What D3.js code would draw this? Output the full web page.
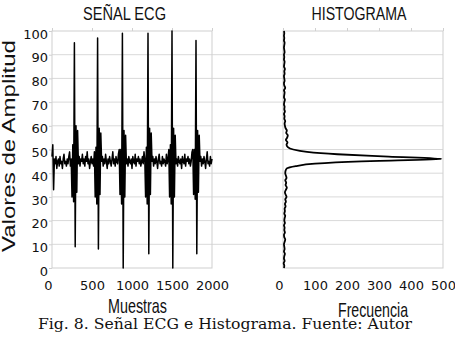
<!DOCTYPE html>
<html>
<head>
<meta charset="utf-8">
<script src="https://cdn.jsdelivr.net/npm/d3@7"></script>
<style>
  body { margin: 0; background: #fff; }
  .tick text { font-family: "DejaVu Sans", sans-serif; font-size: 13px; fill: #111; }
  .narrow { font-family: "Liberation Sans Narrow", "Arial Narrow", "Liberation Sans", sans-serif; fill: #111; }
</style>
</head>
<body>
<div id="chart"></div>
<script>
// ECG samples, one value every 10 samples (0..2000)
const ecgStep = 10;
const ecgValues = [
  47, 52, 33, 46, 44, 47, 42, 45, 46, 43,
  47, 44, 45, 42, 46, 48, 44, 45, 43, 46,
  44, 47, 49, 43, 46, 30, 52, 28, 95, 9,
  60, 32, 58, 44, 47, 43, 46, 45, 48, 44,
  46, 43, 47, 45, 49, 44, 46, 42, 45, 47,
  44, 46, 43, 49, 30, 51, 27, 97, 8, 59,
  31, 57, 45, 47, 43, 46, 44, 48, 45, 42,
  46, 44, 47, 45, 43, 46, 49, 44, 46, 43,
  47, 45, 44, 48, 50, 31, 50, 27, 99, 0,
  58, 30, 56, 44, 46, 43, 47, 45, 44, 46,
  42, 47, 45, 44, 48, 43, 46, 45, 47, 44,
  46, 43, 45, 47, 44, 49, 46, 30, 51, 27,
  99, 6, 59, 31, 57, 45, 47, 43, 46, 44,
  47, 45, 42, 46, 48, 44, 45, 43, 47, 44,
  46, 45, 43, 48, 44, 46, 50, 30, 52, 27,
  100, 0, 59, 30, 56, 44, 46, 43, 47, 45,
  44, 46, 42, 47, 45, 44, 48, 43, 46, 45,
  47, 44, 46, 43, 45, 49, 50, 31, 50, 29,
  96, 6, 58, 32, 56, 45, 47, 43, 46, 44,
  47, 45, 42, 46, 49, 44, 45, 43, 47, 44,
  46
];

// Histogram: frequency for each amplitude value 0..100
const histFreq = [
  3, 4, 2, 5, 3, 4, 6, 3, 5, 4,
  3, 5, 7, 4, 3, 6, 4, 5, 3, 6,
  4, 5, 7, 4, 6, 5, 8, 6, 9, 7,
  11, 8, 6, 9, 12, 8, 10, 7, 11, 9,
  7, 8, 12, 40, 100, 245, 495, 330, 170, 75,
  32, 15, 11, 14, 9, 13, 15, 10, 12, 8,
  6, 5, 7, 4, 5, 3, 6, 4, 5, 3,
  4, 6, 3, 4, 5, 3, 7, 4, 3, 5,
  4, 3, 5, 4, 6, 3, 4, 5, 3, 4,
  3, 5, 4, 3, 4, 5, 3, 4, 3, 4,
  3
];

const ampTicks = [0, 10, 20, 30, 40, 50, 60, 70, 80, 90, 100];
const sampleTicks = [0, 500, 1000, 1500, 2000];
const freqTicks = [0, 100, 200, 300, 400, 500];

const W = 455, H = 338;

const svg = d3.select("#chart")
    .append("svg")
    .attr("width", W)
    .attr("height", H);

// scales
const y = d3.scaleLinear().domain([0, 100]).range([268, 31]);
const xL = d3.scaleLinear().domain([0, 2000]).range([52, 212]);
const xR = d3.scaleLinear().domain([0, 500]).range([283, 443]);

// gridlines running across both panels
svg.append("g")
    .selectAll("line")
    .data(ampTicks.filter(d => d > 0 && d < 100))
    .enter().append("line")
    .attr("x1", xL.range()[0])
    .attr("x2", xR.range()[1])
    .attr("y1", d => y(d))
    .attr("y2", d => y(d))
    .attr("stroke", "#d9d9d9")
    .attr("stroke-width", 1);

// panel frames
[xL, xR].forEach(sc => {
    svg.append("rect")
        .attr("x", sc.range()[0])
        .attr("y", y(100))
        .attr("width", sc.range()[1] - sc.range()[0])
        .attr("height", y(0) - y(100))
        .attr("fill", "none")
        .attr("stroke", "#cfcfcf")
        .attr("stroke-width", 1);
});

// little ticks on top edge
svg.append("g")
    .attr("transform", "translate(0," + y(100) + ")")
    .call(d3.axisTop(xL).tickValues(sampleTicks).tickSize(3).tickFormat(""))
    .call(g => g.select(".domain").remove())
    .call(g => g.selectAll("line").attr("stroke", "#d0d0d0"));

svg.append("g")
    .attr("transform", "translate(0," + y(100) + ")")
    .call(d3.axisTop(xR).tickValues(freqTicks).tickSize(3).tickFormat(""))
    .call(g => g.select(".domain").remove())
    .call(g => g.selectAll("line").attr("stroke", "#d0d0d0"));

// axes
svg.append("g")
    .attr("transform", "translate(" + xL.range()[0] + ",0)")
    .call(d3.axisLeft(y).tickValues(ampTicks).tickSize(3).tickPadding(1))
    .call(g => g.select(".domain").remove())
    .call(g => g.selectAll("line").attr("stroke", "#d0d0d0"))
    .call(g => g.selectAll("text").attr("dy", "0.55em"));

svg.append("g")
    .attr("transform", "translate(0," + y(0) + ")")
    .call(d3.axisBottom(xL).tickValues(sampleTicks).tickFormat(d3.format("d")).tickSize(0).tickPadding(13))
    .call(g => g.select(".domain").remove())
    .call(g => g.selectAll("text").attr("dx", d => d === 0 ? -4 : 0));

svg.append("g")
    .attr("transform", "translate(0," + y(0) + ")")
    .call(d3.axisBottom(xR).tickValues(freqTicks).tickFormat(d3.format("d")).tickSize(0).tickPadding(13))
    .call(g => g.select(".domain").remove())
    .call(g => g.selectAll("text").attr("dx", d => d === 0 ? -4 : 0));

// ECG signal
const ecgLine = d3.line()
    .x((d, i) => xL(i * ecgStep))
    .y(d => y(d));

svg.append("path")
    .datum(ecgValues)
    .attr("d", ecgLine)
    .attr("fill", "none")
    .attr("stroke", "#000")
    .attr("stroke-width", 1.5)
    .attr("stroke-linejoin", "round");

// histogram, drawn top to bottom so the curve is monotone in y
const histData = histFreq.map((f, a) => ({ amp: a, freq: f })).reverse();

const histLine = d3.line()
    .x(d => xR(d.freq))
    .y(d => y(d.amp))
    .curve(d3.curveMonotoneY);

svg.append("path")
    .datum(histData)
    .attr("d", histLine)
    .attr("fill", "none")
    .attr("stroke", "#000")
    .attr("stroke-width", 1.8)
    .attr("stroke-linejoin", "round");

// titles and labels
function label(txt, x, yy, size, len) {
    return svg.append("text")
        .attr("class", "narrow")
        .attr("x", x)
        .attr("y", yy)
        .attr("text-anchor", "middle")
        .attr("font-size", size)
        .attr("textLength", len)
        .attr("lengthAdjust", "spacingAndGlyphs")
        .text(txt);
}

label("SEÑAL ECG", 124.5, 20, 19, 83);
label("HISTOGRAMA", 359, 20, 19, 95);
label("Muestras", 137.5, 313, 21, 59);
label("Frecuencia", 373, 317, 21, 70);

svg.append("text")
    .attr("transform", "translate(15,146) rotate(-90)")
    .attr("text-anchor", "middle")
    .attr("font-family", "'Liberation Sans', Arial, sans-serif")
    .attr("font-size", 18)
    .attr("textLength", 212)
    .attr("lengthAdjust", "spacingAndGlyphs")
    .attr("fill", "#111")
    .text("Valores de Amplitud");

// caption
svg.append("text")
    .attr("x", 38)
    .attr("y", 329)
    .attr("font-family", "'DejaVu Serif', serif")
    .attr("font-size", 14)
    .attr("textLength", 374)
    .attr("lengthAdjust", "spacingAndGlyphs")
    .attr("fill", "#111")
    .text("Fig. 8. Señal ECG e Histograma. Fuente: Autor");
</script>
</body>
</html>
